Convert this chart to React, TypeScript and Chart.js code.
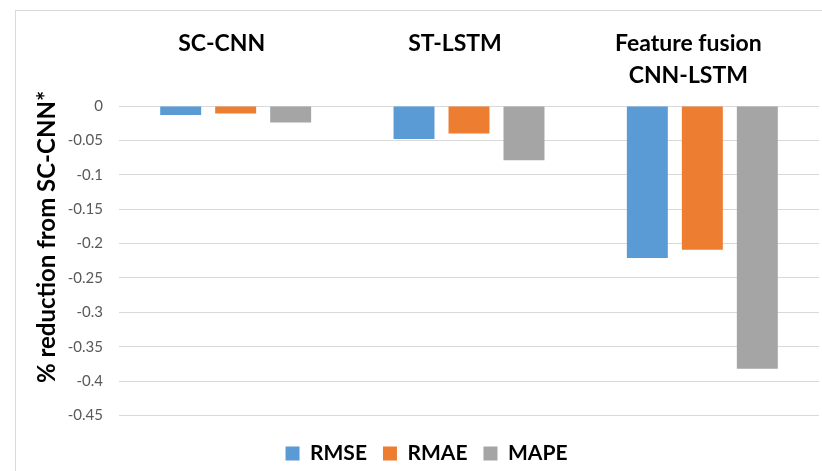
import React, { useEffect, useRef } from "react";
import { Chart, registerables } from "chart.js";

Chart.register(...registerables);

const categories: (string | string[])[] = ["SC-CNN", "ST-LSTM", ["Feature fusion", "CNN-LSTM"]];
const seriesNames = ["RMSE", "RMAE", "MAPE"];
const rmseValues = [-0.013, -0.048, -0.221];
const rmaeValues = [-0.011, -0.04, -0.209];
const mapeValues = [-0.024, -0.079, -0.382];
const seriesColors = ["#5B9BD5", "#ED7D31", "#A5A5A5"];
const yMin = -0.45;
const yMax = 0;
const yStep = 0.05;
const yTitle = "% reduction from SC-CNN*";

const FONT = "Lato, 'Open Sans', sans-serif";

const yTitlePlugin = {
  id: "yTitlePlugin",
  afterDraw(chart: any) {
    const ctx = chart.ctx;
    ctx.save();
    ctx.translate(55, 237);
    ctx.rotate(-Math.PI / 2);
    ctx.font = `bold 24px ${FONT}`;
    ctx.fillStyle = "#000000";
    ctx.textAlign = "center";
    ctx.textBaseline = "alphabetic";
    ctx.fillText(yTitle, 0, 0);
    ctx.restore();
  },
};

export default function App() {
  const canvasRef = useRef<HTMLCanvasElement | null>(null);

  useEffect(() => {
    if (!canvasRef.current) return;
    const allSeries = [rmseValues, rmaeValues, mapeValues];
    const chart = new Chart(canvasRef.current, {
      type: "bar",
      data: {
        labels: categories,
        datasets: allSeries.map((vals, i) => ({
          label: seriesNames[i],
          data: vals,
          backgroundColor: seriesColors[i],
          borderWidth: 0,
          categoryPercentage: 0.707,
          barPercentage: 0.745,
        })),
      },
      options: {
        responsive: false,
        animation: false,
        events: [],
        layout: { padding: { left: 34, right: 3, top: 0, bottom: 0 } },
        plugins: {
          tooltip: { enabled: false },
          legend: {
            position: "bottom",
            align: "center",
            title: {
              display: true,
              text: " ",
              font: { size: 2, lineHeight: 1 },
              padding: { top: 9.5, bottom: 0 },
            },
            labels: {
              boxWidth: 14,
              boxHeight: 14,
              padding: 16,
              color: "#000000",
              font: { family: FONT, size: 21, weight: "bold" },
            },
          },
        },
        scales: {
          x: {
            position: "top",
            grid: { display: false, drawTicks: false },
            border: { display: false },
            ticks: {
              color: "#000000",
              font: { family: FONT, size: 23, weight: "bold", lineHeight: 1.4 },
              crossAlign: "far",
              padding: 14,
              labelOffset: -14,
              maxRotation: 0,
              autoSkip: false,
            },
            afterFit(scale: any) {
              scale.height = 106;
            },
          },
          y: {
            min: yMin,
            max: yMax,
            grid: { color: "#D9D9D9", lineWidth: 1, drawTicks: false },
            border: { display: false },
            ticks: {
              stepSize: yStep,
              color: "#595959",
              padding: 16,
              font: { family: FONT, size: 15 },
              callback: (v: any) => String(Number(Number(v).toFixed(2))),
            },
            afterFit(scale: any) {
              scale.width = 85;
            },
          },
        },
      },
      plugins: [yTitlePlugin],
    });
    return () => chart.destroy();
  }, []);

  return (
    <div style={{ position: "absolute", left: 0, top: 0, width: 822, height: 471, overflow: "hidden", background: "#ffffff" }}>
      <div
        style={{
          position: "absolute",
          left: 15,
          top: 10,
          width: 900,
          height: 600,
          borderTop: "1px solid #D9D9D9",
          borderLeft: "1px solid #D9D9D9",
        }}
      />
      <canvas ref={canvasRef} width={822} height={474} style={{ position: "absolute", left: 0, top: 0 }} />
    </div>
  );
}
